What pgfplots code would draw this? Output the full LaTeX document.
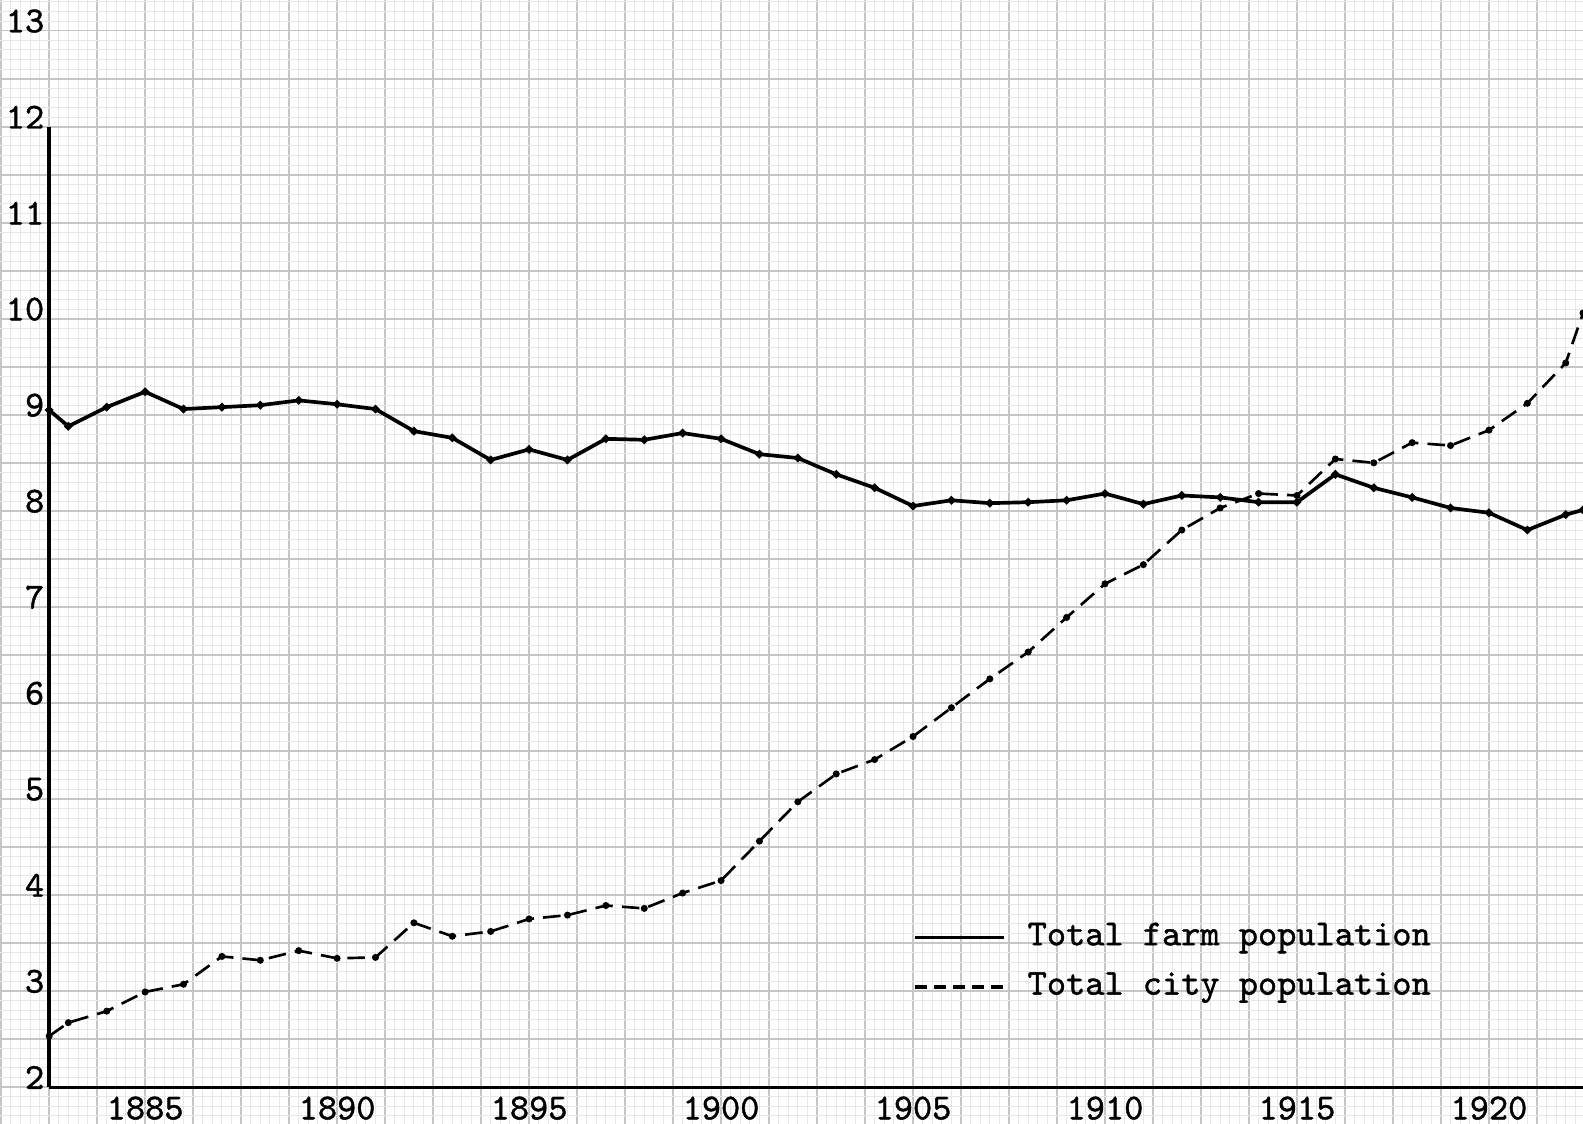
\documentclass[border=0pt]{standalone}
\usepackage{pgfplots}
\usepackage{fontspec}
\pgfplotsset{compat=1.18}
\newfontfamily\typewriter{Latin Modern Mono}[FakeBold=1.2]

\pgfplotstableread{
year  farm
1882.5 9.05
1883  8.88
1884  9.08
1885  9.24
1886  9.06
1887  9.08
1888  9.10
1889  9.15
1890  9.11
1891  9.06
1892  8.83
1893  8.76
1894  8.53
1895  8.64
1896  8.53
1897  8.75
1898  8.74
1899  8.81
1900  8.75
1901  8.59
1902  8.55
1903  8.38
1904  8.24
1905  8.05
1906  8.11
1907  8.08
1908  8.09
1909  8.11
1910  8.18
1911  8.07
1912  8.16
1913  8.14
1914  8.09
1915  8.09
1916  8.38
1917  8.24
1918  8.14
1919  8.03
1920  7.98
1921  7.80
1922  7.96
1922.45 8.01
}\farmdata

\pgfplotstableread{
year  city
1882.5 2.53
1883  2.67
1884  2.79
1885  2.99
1886  3.07
1887  3.36
1888  3.32
1889  3.42
1890  3.34
1891  3.35
1892  3.71
1893  3.57
1894  3.62
1895  3.75
1896  3.79
1897  3.89
1898  3.86
1899  4.02
1900  4.15
1901  4.56
1902  4.97
1903  5.26
1904  5.41
1905  5.65
1906  5.95
1907  6.25
1908  6.53
1909  6.89
1910  7.24
1911  7.44
1912  7.80
1913  8.03
1914  8.18
1915  8.16
1916  8.54
1917  8.50
1918  8.71
1919  8.68
1920  8.84
1921  9.12
1922  9.54
1922.45 10.06
}\citydata

\begin{document}
\begin{tikzpicture}[font=\fontsize{10.4}{12.4}\selectfont\typewriter]
\begin{axis}[
    name=ax,
    scale only axis,
    width=15.83cm, height=11.24cm,
    xmin=1881.22, xmax=1922.45,
    ymin=1.615, ymax=13.32,
    axis line style={draw=none},
    major tick length=0pt, minor tick length=0pt,
    xtick={1881.25,1882.5,...,1922.5},
    ytick={1.5,2,...,13.5},
    minor x tick num=4,
    minor y tick num=4,
    xticklabels={}, yticklabels={},
    grid=both,
    major grid style={gray!45, line width=0.45pt},
    minor grid style={gray!19, line width=0.25pt},
    clip=false,
    legend style={
        draw=none, fill=none,
        at={(axis cs:1904.98,3.30)}, anchor=west,
        inner sep=0pt,
        nodes={inner sep=0pt, text depth=0.2em},
        cells={anchor=west},
        column sep=6.3pt,
        row sep=5.7pt,
        font=\fontsize{10.4}{12.4}\selectfont\typewriter,
    },
    legend image code/.code={\draw[#1] (0pt,0pt) -- (25.3pt,0pt);},
]

% paper axes
\draw[black, line width=1pt] (axis cs:1882.5,2) -- (axis cs:1882.5,12);
\draw[black, line width=0.85pt] (axis cs:1882.5,2) -- (axis cs:1922.45,2);

\addplot[black, line width=1.05pt, mark=*, mark size=0.55pt, forget plot]
    table[x=year, y=farm] {\farmdata};

\addplot[black, line width=0.75pt, dash pattern=on 5pt off 2.6pt,
    mark=*, mark size=0.6pt, mark options={solid}, forget plot]
    table[x=year, y=city] {\citydata};

\addlegendimage{black, line width=1.05pt}
\addlegendentry{Total farm population}
\addlegendimage{black, line width=0.95pt, dash pattern=on 3.6pt off 1.8pt}
\addlegendentry{Total city population}

% y labels
\pgfplotsinvokeforeach{2,...,13}{
    \node[anchor=east, inner sep=0pt] at (axis cs:1882.39,#1+0.1) {#1};
}
% x labels
\pgfplotsinvokeforeach{1885,1890,...,1920}{
    \node[inner sep=0pt] at (axis cs:#1,1.78) {#1};
}
\end{axis}
\pgfresetboundingbox
\path[use as bounding box] (ax.south west) rectangle (ax.north east);
\end{tikzpicture}
\end{document}
